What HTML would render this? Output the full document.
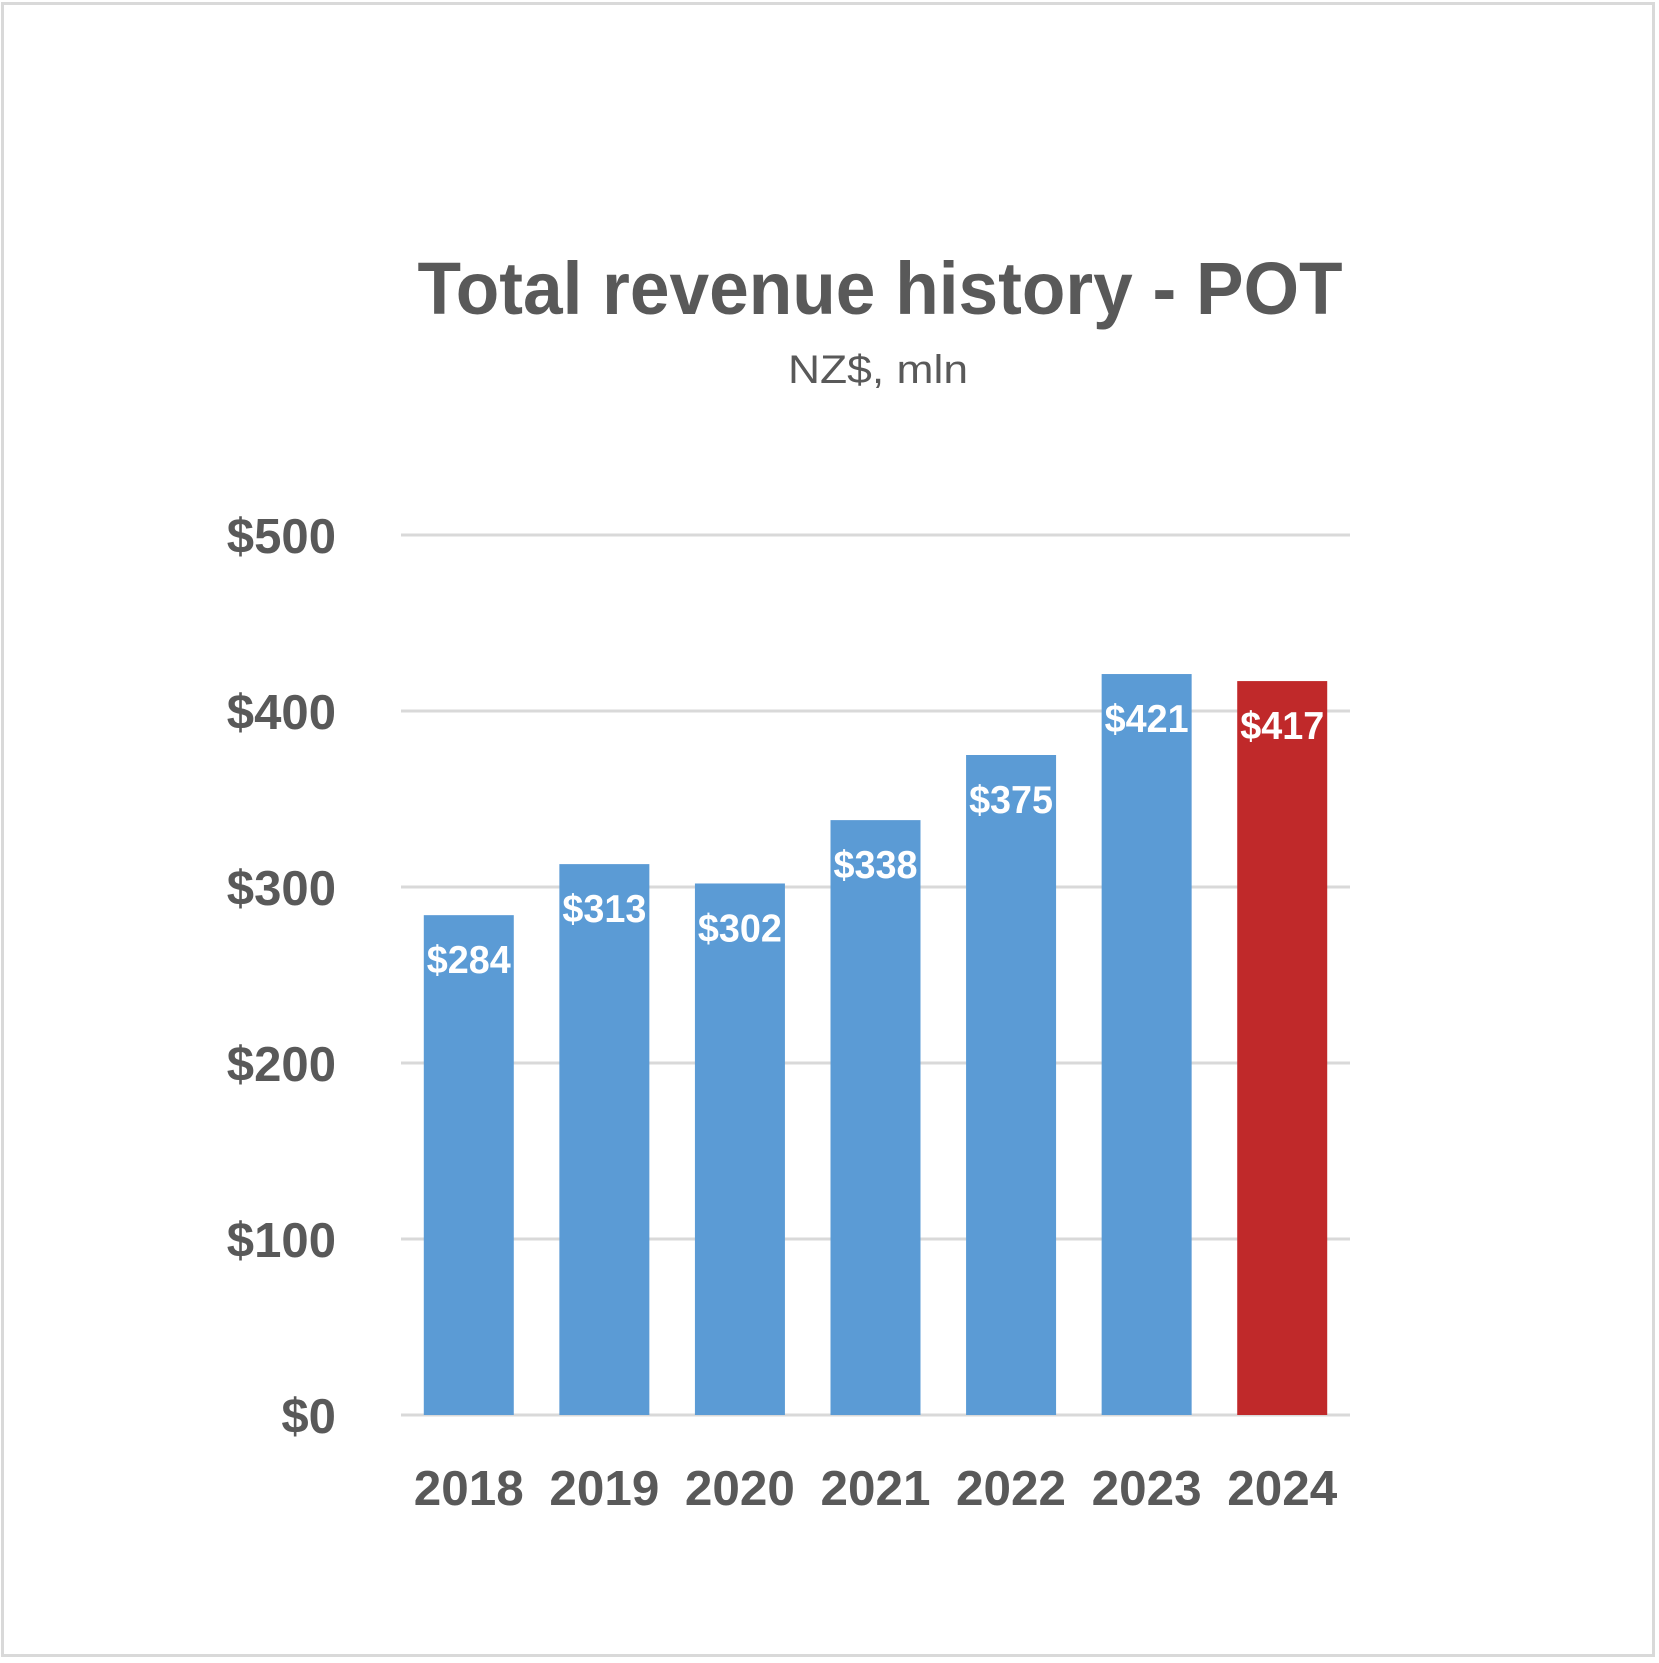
<!DOCTYPE html>
<html><head><meta charset="utf-8"><style>
html,body{margin:0;padding:0;background:#fff;}
svg{display:block;font-family:"Liberation Sans",sans-serif;}
</style></head><body>
<svg id="chart" width="1659" height="1663" viewBox="0 0 1659 1663" xmlns="http://www.w3.org/2000/svg">
<rect x="2.5" y="3.5" width="1651" height="1652" fill="#fff" stroke="#d9d9d9" stroke-width="3"/>
<text x="880" y="314" text-anchor="middle" font-size="74" font-weight="bold" fill="#595959" textLength="925" lengthAdjust="spacingAndGlyphs">Total revenue history - POT</text>
<text x="878" y="383" text-anchor="middle" font-size="40" fill="#595959" textLength="180" lengthAdjust="spacingAndGlyphs">NZ$, mln</text>
<g id="grid"></g><g id="bars"></g><g id="labels"></g>
</svg>
<script>
const categories=["2018","2019","2020","2021","2022","2023","2024"];
const revenues=[284,313,302,338,375,421,417];
const valueLabels=["$284","$313","$302","$338","$375","$421","$417"];
const yTicks=[0,100,200,300,400,500];
const yTickLabels=["$0","$100","$200","$300","$400","$500"];
const NS="http://www.w3.org/2000/svg";
const plotL=401,plotR=1350,baseY=1415,topY=535,yMax=500;
const y=v=>baseY-(v/yMax)*(baseY-topY);
const band=(plotR-plotL)/categories.length;
const xc=i=>plotL+band*(i+0.5);
const barW=90;
function mk(tag,attrs,parent){const e=document.createElementNS(NS,tag);for(const k in attrs)e.setAttribute(k,attrs[k]);parent.appendChild(e);return e;}
const grid=document.getElementById('grid'),bars=document.getElementById('bars'),labels=document.getElementById('labels');
yTicks.forEach((t,i)=>{
  const l=mk('line',{x1:plotL,x2:plotR,y1:y(t),y2:y(t),stroke:'#d9d9d9','stroke-width':3},grid);
  
  
  const w=yTickLabels[i].length*27.3;
  const tx=mk('text',{x:336,y:y(t)+18,'text-anchor':'end','font-size':49,'font-weight':'bold',fill:'#595959',textLength:w,lengthAdjust:'spacingAndGlyphs'},labels);
  tx.textContent=yTickLabels[i];
  
  
});
categories.forEach((c,i)=>{
  const r=mk('rect',{x:xc(i)-barW/2,y:y(revenues[i]),width:barW,height:baseY-y(revenues[i]),fill:i===categories.length-1?'#c0292a':'#5b9bd5'},bars);
  
  
  const v=mk('text',{x:xc(i),y:y(revenues[i])+58,'text-anchor':'middle','font-size':39,'font-weight':'bold',fill:'#fff',textLength:84,lengthAdjust:'spacingAndGlyphs'},labels);
  v.textContent=valueLabels[i];
  
  
  const xl=mk('text',{x:xc(i),y:1505,'text-anchor':'middle','font-size':49,'font-weight':'bold',fill:'#595959',textLength:110,lengthAdjust:'spacingAndGlyphs'},labels);
  xl.textContent=c;
  
  
});
</script>
</body></html>
